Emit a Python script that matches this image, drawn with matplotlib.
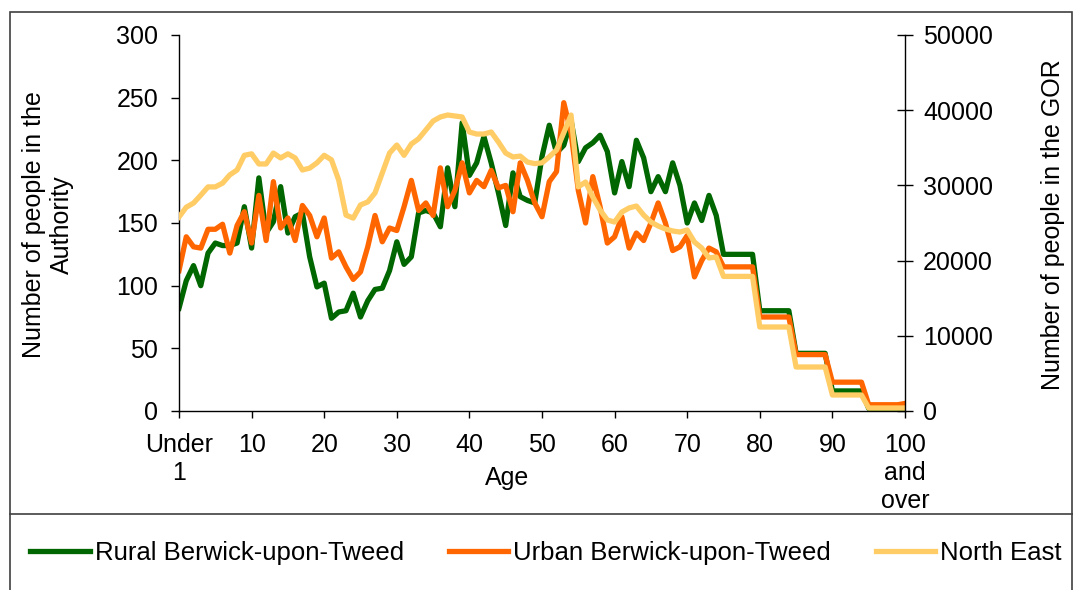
import numpy as np
import matplotlib
matplotlib.use("Agg")
import matplotlib.pyplot as plt
from matplotlib.patches import Rectangle
from matplotlib.lines import Line2D

plt.rcParams['font.family'] = ['Liberation Sans', 'DejaVu Sans']

# age bands: Under 1, 1 .. 99, 100 and over (75+ shown as 5-year bands)
ages = list(range(0, 101))
tick_pos = [0, 10, 20, 30, 40, 50, 60, 70, 80, 90, 100]
tick_labels = ["Under\n1", "10", "20", "30", "40", "50", "60", "70", "80", "90", "100\nand\nover"]

rural = [82, 104, 116, 100, 126, 134, 132, 132, 134, 163,
         130, 186, 142, 151, 179, 142, 155, 158, 123, 99,
         102, 74, 79, 80, 94, 75, 88, 97, 98, 112,
         135, 117, 123, 158, 160, 158, 147, 194, 163, 230,
         188, 198, 219, 198, 174, 148, 190, 171, 168, 166,
         203, 228, 206, 212, 232, 199, 210, 214, 220, 207,
         174, 199, 179, 216, 202, 175, 187, 175, 198, 180,
         150, 166, 152, 172, 156, 125, 125, 125, 125, 125,
         80, 80, 80, 80, 80, 46, 46, 46, 46, 46,
         16, 16, 16, 16, 16, 2, 2, 2, 2, 2,
         0]

urban = [112, 139, 131, 130, 145, 145, 149, 126, 148, 159,
         134, 172, 136, 183, 146, 154, 136, 164, 156, 139,
         154, 122, 127, 115, 105, 111, 131, 156, 135, 146,
         144, 163, 184, 160, 166, 156, 194, 163, 176, 198,
         174, 184, 179, 192, 178, 180, 159, 198, 184, 166,
         155, 183, 191, 246, 222, 176, 150, 187, 163, 134,
         139, 155, 130, 142, 136, 150, 166, 150, 128, 131,
         140, 107, 120, 130, 127, 115, 115, 115, 115, 115,
         75, 75, 75, 75, 75, 45, 45, 45, 45, 45,
         23, 23, 23, 23, 23, 5, 5, 5, 5, 5,
         6]

north_east = [25800, 27100, 27650, 28700, 29800, 29800, 30300, 31400, 32050, 34000,
              34200, 32850, 32850, 34300, 33650, 34200, 33650, 32050, 32300, 33000,
              34000, 33400, 30700, 26050, 25650, 27400, 27800, 29000, 31650, 34300,
              35370, 34000, 35500, 36200, 37370, 38560, 39100, 39360, 39230, 39100,
              37100, 36830, 36830, 37100, 35770, 34300, 33780, 33900, 33100, 32900,
              33000, 33800, 34700, 37000, 39360, 29800, 30450, 28460, 26730, 25400,
              25130, 26460, 27000, 27260, 26060, 25130, 24600, 24200, 23940, 23800,
              24070, 22470, 21670, 20350, 20480, 17900, 17900, 17900, 17900, 17900,
              11170, 11170, 11170, 11170, 11170, 5850, 5850, 5850, 5850, 5850,
              2130, 2130, 2130, 2130, 2130, 400, 400, 400, 400, 400,
              400]

W, H = 1073, 590
fig = plt.figure(figsize=(W / 100, H / 100), dpi=100)
ax = fig.add_axes([179 / W, 1 - 411 / H, (905 - 179) / W, (411 - 35) / H])
ax2 = ax.twinx()

l1, = ax.plot(ages, rural, color='#006600', lw=3.8, label='Rural Berwick-upon-Tweed')
l2, = ax.plot(ages, urban, color='#FF6600', lw=3.8, label='Urban Berwick-upon-Tweed')
l3, = ax2.plot(ages, north_east, color='#FFCC66', lw=3.8, label='North East')

ax.set_xlim(0, 100)
ax.set_ylim(0, 300)
ax2.set_ylim(0, 50000)
ax.set_yticks(range(0, 301, 50))
ax2.set_yticks(range(0, 50001, 10000))
ax.set_xticks(tick_pos)
ax.set_xticklabels(tick_labels)

for s in ['top', 'right']:
    ax.spines[s].set_visible(False)
for s in ['top', 'left', 'bottom']:
    ax2.spines[s].set_visible(False)
ax.spines['left'].set_linewidth(1)
ax.spines['bottom'].set_linewidth(1)
ax2.spines['right'].set_linewidth(1)

ax.tick_params(axis='y', direction='out', length=6, width=1, labelsize=18, pad=9)
ax.tick_params(axis='x', direction='out', length=5, width=1, labelsize=18, pad=11)
ax2.tick_params(axis='y', direction='inout', length=12, width=1, labelsize=18, pad=7)

ax.set_xlabel('Age', fontsize=18)
ax.xaxis.set_label_coords((507 - 179) / 726, (411 - 466) / 376)

fig.text(48 / W, 1 - 225 / H, 'Number of people in the\nAuthority', rotation=90,
         ha='center', va='center', fontsize=18, multialignment='center')
fig.text(1053 / W, 1 - 225 / H, 'Number of people in the GOR', rotation=90,
         ha='center', va='center', fontsize=18)

fig.legend(handles=[l1, l2, l3], loc='center', bbox_to_anchor=(546 / W, 1 - 553 / H),
           ncol=3, frameon=False, fontsize=18.5, handlelength=2.3, handletextpad=0.2,
           columnspacing=1.75)

# chart frame and legend separator
fig.add_artist(Rectangle((9.5 / W, -0.01), (1071.5 - 9.5) / W, 1 - 12 / H + 0.01,
                         transform=fig.transFigure, fill=False, lw=1.2, ec='#404040'))
fig.add_artist(Line2D([9.5 / W, 1.0], [1 - 514 / H, 1 - 514 / H],
                      transform=fig.transFigure, lw=1.2, color='#404040'))

fig.savefig('out.png', dpi=100)
